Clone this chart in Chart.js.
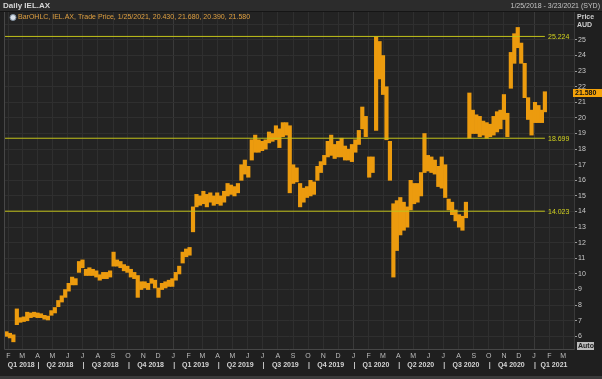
<!DOCTYPE html>
<html>
<head>
<meta charset="utf-8">
<script src="https://cdn.jsdelivr.net/npm/chart.js@4.4.1/dist/chart.umd.min.js"></script>
<style>
  html, body { margin: 0; padding: 0; background: #1e1e1e; }
  #wrap { width: 602px; height: 379px; }
</style>
</head>
<body>
<div id="wrap"><canvas id="chart" width="602" height="379"></canvas></div>
<script>
// x axis is days counted from 1/25/2018, the first bar of the series
const startDate = Date.UTC(2018, 0, 25);
const endDay = 1153; // 3/23/2021

// weekly low / high (week i centred on day 7*i+3)
const weekLows = [
  6.0, 5.9, 5.65, 6.75, 6.9, 6.95, 7.0, 7.2, 7.25, 7.2,
  7.2, 7.1, 7.05, 7.35, 7.5, 7.9, 8.2, 8.5, 8.9, 9.3,
  9.3, 10.1, 10.4, 9.9, 9.9, 9.9, 9.8, 9.6, 9.7, 9.7,
  9.8, 10.5, 10.5, 10.4, 10.2, 10.1, 9.8, 9.7, 8.5, 9.0,
  9.1, 9.0, 9.4, 9.1, 8.5, 9.0, 9.1, 9.2, 9.2, 9.6,
  10.0, 10.7, 11.1, 11.2, 12.7, 14.3, 14.4, 14.5, 14.3, 14.6,
  14.4, 14.5, 14.4, 14.6, 15.0, 15.1, 15.0, 15.2, 16.0, 16.4,
  16.2, 17.3, 17.8, 17.8, 17.9, 18.0, 18.4, 18.5, 18.6, 18.1,
  18.8, 18.9, 15.2, 15.8, 15.9, 14.3, 14.6, 14.9, 15.0, 15.1,
  16.0, 16.5, 17.0, 17.5, 17.6, 17.4, 17.5, 17.5, 17.3, 17.3,
  17.2, 17.8, 18.3, 19.3, 18.8, 16.2, 16.5, 19.2, 22.5, 21.5,
  18.6, 16.0, 9.8, 11.5, 12.5, 12.8, 13.0, 14.1, 14.5, 14.6,
  15.0, 16.5, 16.6, 16.5, 16.4, 15.6, 15.5, 14.9, 14.1, 13.8,
  13.4, 13.0, 12.8, 13.6, 18.7, 19.0, 19.0, 18.8, 18.9, 18.7,
  18.8, 18.9, 19.1, 19.3, 19.9, 18.8, 21.9, 23.5, 24.5, 23.5,
  21.3, 19.9, 18.9, 19.7, 19.7, 19.7, 20.39
];
const weekHighs = [
  6.3, 6.2, 6.1, 7.76, 7.2, 7.25, 7.55, 7.5, 7.55, 7.5,
  7.45, 7.35, 7.3, 7.65, 7.85, 8.3, 8.6, 9.0, 9.4, 9.8,
  9.7, 10.8, 10.9, 10.3, 10.4, 10.3, 10.2, 9.95, 10.1, 10.1,
  10.2, 11.4, 10.9, 10.8, 10.6, 10.5, 10.3, 10.1, 9.9, 9.5,
  9.5, 9.4, 9.7, 9.6, 9.1, 9.4, 9.5, 9.6, 9.7, 10.1,
  10.5, 11.4, 11.6, 11.7, 14.3, 15.1, 15.0, 15.3, 15.1, 15.2,
  15.0, 15.2, 15.0, 15.3, 15.8, 15.7, 15.6, 15.8, 17.0, 17.3,
  16.9, 18.6, 18.9, 18.6, 18.5, 18.6, 19.1, 19.0, 19.5, 19.3,
  19.7, 19.7, 19.5, 17.0, 16.8, 15.8, 15.5, 15.6, 16.0, 15.9,
  16.9, 17.2, 17.6, 18.5, 18.9, 18.3, 18.5, 18.7, 18.2, 18.0,
  18.3, 18.6, 19.2, 20.7, 20.1, 17.5, 17.5, 25.2, 24.9, 24.0,
  22.0, 18.5, 14.5, 14.7, 14.9, 14.6, 14.3, 16.0, 15.8, 15.8,
  16.5, 19.0, 17.6, 17.5, 17.3, 16.9, 17.5, 17.0, 14.8, 14.6,
  14.1, 13.8, 13.7, 14.6, 21.6, 20.5, 20.2, 20.1, 19.8, 19.7,
  19.6, 20.1, 20.4, 20.5, 21.5, 20.3, 24.2, 25.4, 25.8, 24.8,
  23.5, 21.3, 20.5, 21.0, 20.8, 20.5, 21.68
];

const levels = [25.224, 18.699, 14.023];
const lastDay = 1094;      // 1/25/2021
const lastClose = 21.58;
const yTicks = [6, 7, 8, 9, 10, 11, 12, 13, 14, 15, 16, 17, 18, 19, 20, 21, 22, 23, 24, 25, 26];
const monthLetters = ["J", "F", "M", "A", "M", "J", "J", "A", "S", "O", "N", "D"];
const years = [2018, 2019, 2020, 2021];

const FONT = '"Liberation Sans Narrow", "Liberation Sans", sans-serif';

function dayOf(y, m, d) {
  return Math.round((Date.UTC(y, m, d) - startDate) / 86400000);
}

// month start ticks
const monthTicks = [];
years.forEach(y => {
  for (let m = 0; m < 12; m++) {
    const d = dayOf(y, m, 1);
    if (d > 0 && d <= endDay) monthTicks.push({ value: d, label: monthLetters[m], yearStart: m === 0 });
  }
});

// quarter labels centred on the visible part, with separators at quarter starts
const quarterTicks = [];
years.forEach(y => {
  for (let q = 0; q < 4; q++) {
    const qs = dayOf(y, q * 3, 1);
    const qe = dayOf(y, q * 3 + 3, 1);
    const vs = Math.max(qs, 0), ve = Math.min(qe, endDay);
    if (qs > 0 && qs < endDay) quarterTicks.push({ value: qs + 2, label: "|" });
    if (ve > vs) quarterTicks.push({ value: (vs + ve) / 2, label: "Q" + (q + 1) + " " + y });
  }
});
quarterTicks.sort((a, b) => a.value - b.value);

const bars = weekLows.map((lo, i) => ({ x: Math.min(7 * i + 3, lastDay), y: [lo, weekHighs[i]] }));

const frame = {
  id: "frame",
  beforeDraw(chart) {
    const c = chart.ctx, a = chart.chartArea;
    c.save();
    c.fillStyle = "#1f1f1f";
    c.fillRect(0, 0, chart.width, chart.height);
    c.fillStyle = "#2c2c2c";
    c.fillRect(0, 0, chart.width, 11);
    c.fillStyle = "#151515";
    c.fillRect(0, 11, chart.width, 1);
    c.fillStyle = "#232323";
    c.fillRect(a.left, a.top, a.right - a.left, a.bottom - a.top);
    c.fillStyle = "#3a3a3a";
    c.fillRect(0, 376, chart.width, 3);
    c.restore();
  },
  afterDraw(chart) {
    const c = chart.ctx, a = chart.chartArea, ys = chart.scales.y;
    c.save();
    // plot frame
    c.strokeStyle = "#474747";
    c.lineWidth = 1;
    c.beginPath();
    c.moveTo(a.left - 0.5, a.top);
    c.lineTo(a.left - 0.5, a.bottom + 0.5);
    c.lineTo(a.right, a.bottom + 0.5);
    c.stroke();

    // header
    c.textBaseline = "middle";
    c.fillStyle = "#d6d6d6";
    c.font = "bold 8px " + FONT;
    c.textAlign = "left";
    c.fillText("Daily IEL.AX", 3, 6);
    c.font = "7px " + FONT;
    c.fillStyle = "#c4c4c4";
    c.textAlign = "right";
    c.fillText("1/25/2018 - 3/23/2021 (SYD)", 600, 6);

    // legend
    c.beginPath();
    c.arc(13, 17.5, 3, 0, Math.PI * 2);
    c.fillStyle = "#d9e0e8";
    c.fill();
    c.strokeStyle = "#7d8c9c";
    c.stroke();
    c.textAlign = "left";
    c.font = "7px " + FONT;
    c.fillStyle = "#e0a040";
    c.fillText("BarOHLC, IEL.AX, Trade Price, 1/25/2021, 20.430, 21.680, 20.390, 21.580", 18, 17.5);

    // axis title
    c.font = "bold 7px " + FONT;
    c.fillStyle = "#cfcfcf";
    c.fillText("Price", 577, 17);
    c.fillText("AUD", 577, 25.5);

    // level labels
    c.font = "7px " + FONT;
    c.fillStyle = "#d2d21e";
    levels.forEach(lv => {
      c.fillText(lv.toFixed(3), 548, ys.getPixelForValue(lv) + 0.5);
    });

    // last price tag
    const py = Math.round(ys.getPixelForValue(lastClose));
    c.fillStyle = "#f5a30a";
    c.fillRect(573, py - 4, 29, 8);
    c.fillStyle = "#111";
    c.font = "bold 7px " + FONT;
    c.fillText(lastClose.toFixed(3), 575, py + 0.5);

    // auto button
    c.fillStyle = "#bdbdbd";
    c.fillRect(577, 342, 17, 8);
    c.fillStyle = "#222";
    c.fillText("Auto", 578, 346.5);
    c.restore();
  }
};

new Chart(document.getElementById("chart"), {
  type: "bar",
  data: {
    datasets: [
      ...levels.map(lv => ({
        type: "line",
        data: [{ x: 0, y: lv }, { x: lastDay, y: lv }],
        borderColor: "#c2c21a",
        borderWidth: 1,
        pointRadius: 0,
        order: 0
      })),
      {
        type: "bar",
        data: bars,
        backgroundColor: "#ec9b0e",
        borderWidth: 0,
        barThickness: 3.5,
        order: 1
      }
    ]
  },
  options: {
    responsive: false,
    animation: false,
    devicePixelRatio: 1,
    layout: { padding: { top: 12, left: 5, right: 0, bottom: 0 } },
    plugins: { legend: { display: false }, tooltip: { enabled: false } },
    scales: {
      x: {
        type: "linear",
        position: "bottom",
        min: 0,
        max: endDay,
        offset: false,
        afterBuildTicks: s => { s.ticks = monthTicks.map(t => ({ value: t.value })); },
        afterFit: s => { s.height = 11; },
        border: { display: false },
        grid: {
          offset: false,
          drawTicks: false,
          color: ctx => (ctx.tick && monthTicks[ctx.index] && monthTicks[ctx.index].yearStart) ? "#3a3a3a" : "#2f2f2f"
        },
        ticks: {
          autoSkip: false, maxRotation: 0, minRotation: 0, padding: 3,
          color: "#bdbdbd",
          font: { family: FONT, size: 7 },
          callback: (v, i) => monthTicks[i] ? monthTicks[i].label : ""
        }
      },
      xq: {
        type: "linear",
        position: "bottom",
        min: 0,
        max: endDay,
        offset: false,
        afterBuildTicks: s => { s.ticks = quarterTicks.map(t => ({ value: t.value })); },
        afterFit: s => { s.height = 19; },
        border: { display: false },
        grid: { display: false, drawTicks: false },
        ticks: {
          autoSkip: false, maxRotation: 0, minRotation: 0, padding: 1,
          color: "#d4d4d4",
          font: { family: FONT, size: 7, weight: "bold" },
          callback: (v, i) => quarterTicks[i] ? quarterTicks[i].label : ""
        }
      },
      y: {
        type: "linear",
        position: "right",
        min: 5.19,
        max: 26.79,
        afterBuildTicks: s => { s.ticks = yTicks.map(v => ({ value: v })); },
        afterFit: s => { s.width = 28; },
        border: { display: true, color: "#3a3a3a" },
        grid: {
          color: "#2f2f2f",
          tickLength: 3,
          tickColor: ctx => (ctx.tick && ctx.tick.value === 26) ? "rgba(0,0,0,0)" : "#9a9a9a"
        },
        ticks: {
          padding: 1,
          color: "#cacaca",
          font: { family: FONT, size: 7 },
          callback: v => v === 26 ? "" : String(v)
        }
      }
    }
  },
  plugins: [frame]
});
</script>
</body>
</html>
